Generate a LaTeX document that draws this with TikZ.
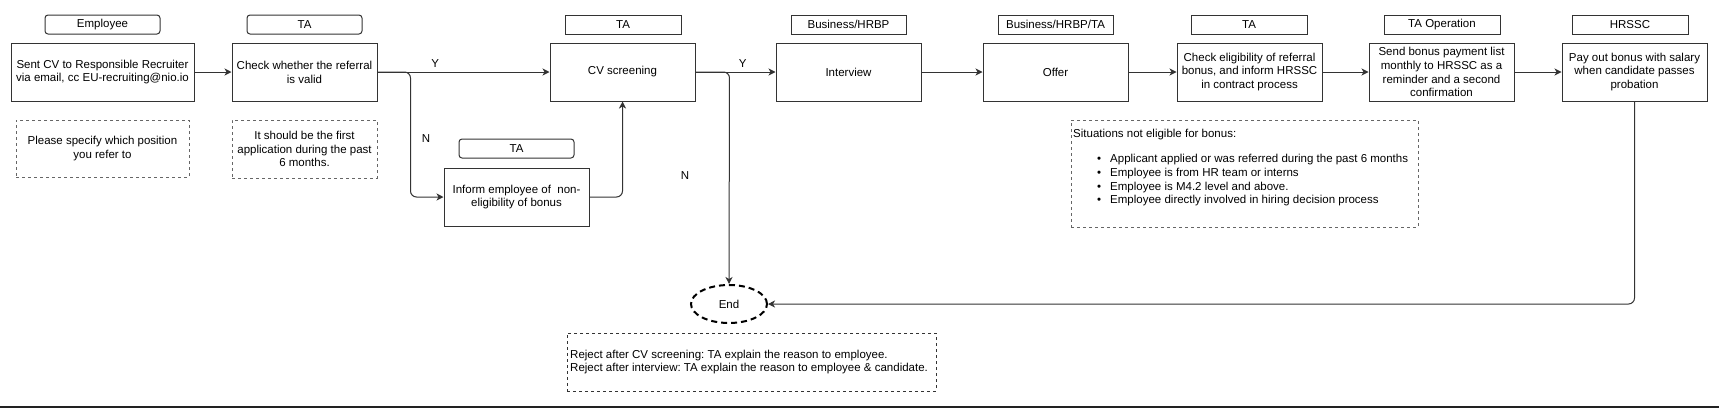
\documentclass[tikz,border=0pt]{standalone}
\usepackage{fontspec}
\setmainfont{Liberation Sans}
\usetikzlibrary{arrows.meta,calc,shapes.geometric}
\definecolor{edge}{HTML}{333333}
\definecolor{dashc}{HTML}{666666}
\definecolor{rule}{HTML}{222222}
\frenchspacing
\begin{document}
\begin{tikzpicture}[x=1pt,y=-1pt,
  font=\fontsize{11.5}{13.8}\selectfont,
  box/.style={draw=edge, line width=1pt, minimum width=145pt, minimum height=58pt, align=center, inner sep=0pt},
  hdr/.style={draw=edge, line width=1pt, minimum width=115pt, minimum height=19pt, inner sep=0pt},
  hdrr/.style={hdr, rounded corners=3pt},
  note/.style={draw=dashc, line width=1pt, dash pattern=on 3pt off 3pt, inner sep=0pt},
  conn/.style={draw=edge, line width=1pt, -{Stealth[length=7pt,width=7pt,inset=2pt]}, rounded corners=6pt},
  lbl/.style={inner sep=0pt}
]
\useasboundingbox (0,0) rectangle (1719,408);

% column 1
\node[hdrr] (h1) at (102.5,24.5) {Employee};
\node[box, minimum width=183pt] (b1) at (102.5,72) {Sent CV to Responsible Recruiter\\via email, cc EU-recruiting@nio.io};
\node[note, minimum width=173pt, minimum height=57pt, align=center] (n1) at (102.5,148.5) {Please specify which position\\you refer to};

% column 2
\node[hdrr] (h2) at (304.5,24.5) {TA};
\node[box] (b2) at (304.5,72) {Check whether the referral\\is valid};
\node[note, minimum width=145pt, minimum height=58pt, align=center] (n2) at (304.5,149) {It should be the first\\application during the past\\6 months.};

% CV screening and inform
\node[hdr, minimum width=116pt] (h3) at (623,24.5) {TA};
\node[box] (cv) at (622.5,72) {CV screening};
\node[hdrr] (h4) at (516.5,148.5) {TA};
\node[box] (inf) at (516.5,197) {Inform employee of~ non-\\eligibility of bonus};

% rest of the row
\node[hdr] (h5) at (848.5,24.5) {Business/HRBP};
\node[box] (iv) at (848.5,72) {Interview};
\node[hdr] (h6) at (1055.5,24.5) {Business/HRBP/TA};
\node[box] (of) at (1055.5,72) {Offer};
\node[hdr, minimum width=116pt] (h7) at (1249,24.5) {TA};
\node[box] (ck) at (1249.5,72) {Check eligibility of referral\\bonus, and inform HRSSC\\in contract process};
\node[hdr, minimum width=116pt] (h8) at (1442,24.5) {TA Operation};
\node[box] (sd) at (1441.5,72) {Send bonus payment list\\monthly to HRSSC as a\\reminder and a second\\confirmation};
\node[hdr, minimum width=116pt] (h9) at (1630,24.5) {HRSSC};
\node[box] (py) at (1634.5,72) {Pay out bonus with salary\\when candidate passes\\probation};

% eligibility note
\node[note, minimum width=347pt, minimum height=107pt] (n3) at (1244.5,173.5) {};
\node[lbl, anchor=west] (n3t) at (1073,135) {Situations not eligible for bonus:};
\node[lbl, anchor=west] (n3l) at (1097,180.5) {\begin{tabular}{@{}l@{\hspace{9pt}}l@{}}
\textbullet & Applicant applied or was referred during the past 6 months\\
\textbullet & Employee is from HR team or interns\\
\textbullet & Employee is M4.2 level and above.\\
\textbullet & Employee directly involved in hiring decision process
\end{tabular}};

% end
\node[draw=black, line width=2pt, dash pattern=on 6pt off 4pt, ellipse, minimum width=76pt, minimum height=38pt, inner sep=0pt] (end) at (729,304) {End};
\node[note, draw=edge, minimum width=369pt, minimum height=58pt] (n4) at (751.5,362) {};
\node[lbl, anchor=west, align=left] (n4t) at (570,362) {Reject after CV screening: TA explain the reason to employee.\\Reject after interview: TA explain the reason to employee \& candidate.};

% connectors
\draw[conn] (b1.east) -- (b2.west);
\draw[conn] (b2.east) -- node[lbl, pos=0.335, above=4pt] (y1) {Y} (cv.west);
\draw[conn] (b2.east) -- ++(33,0) |- (inf.west);
\node[lbl] (nl1) at (426,139) {N};
\draw[conn] (inf.east) -| (cv.south);
\draw[conn] (cv.east) -- node[lbl, pos=0.59, above=4pt] (y2) {Y} (iv.west);
\draw[conn] (cv.east) -- ++(34,0) -- (end.north);
\node[lbl] (nl2) at (685,176) {N};
\draw[conn] (iv.east) -- (of.west);
\draw[conn] (of.east) -- (ck.west);
\draw[conn] (ck.east) -- (sd.west);
\draw[conn] (sd.east) -- (py.west);
\draw[conn] (py.south) |- (end.east);

% bottom rule
\draw[line width=2pt, rule] (0,406.5) -- (1719,406.5);
\end{tikzpicture}
\end{document}
